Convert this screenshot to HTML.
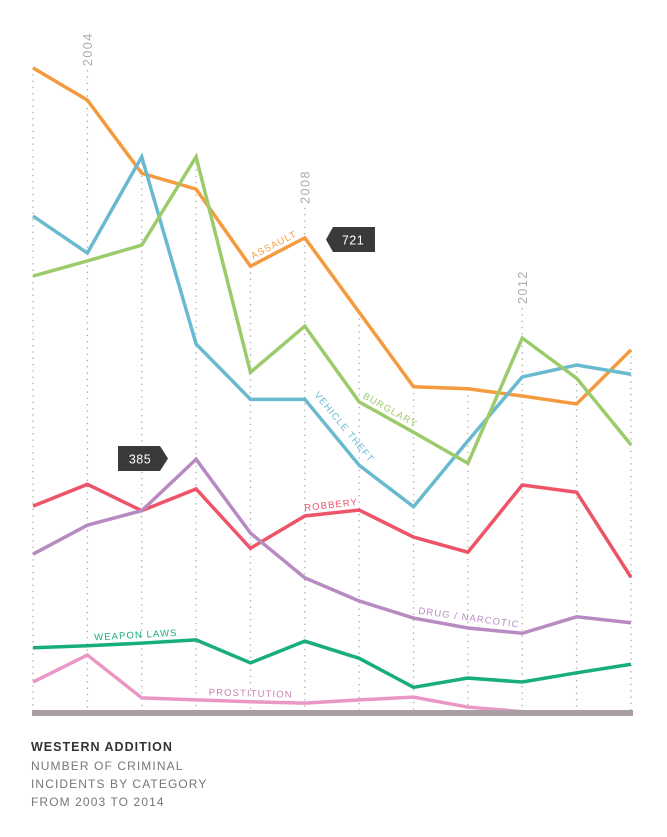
<!DOCTYPE html>
<html><head><meta charset="utf-8"><style>
html,body{margin:0;padding:0;background:#fff;}
svg{display:block;font-family:"Liberation Sans",sans-serif;}
</style></head><body>
<svg id="chart" width="667" height="837" viewBox="0 0 667 837" xmlns="http://www.w3.org/2000/svg">
<g id="grid"></g>
<g id="series"></g>
<rect x="32" y="710" width="601" height="6" fill="#a89ea3"/>
<g id="labels"></g>
<g>
<path d="M333,227 H375 V252 H333 L326,239.5 Z" fill="#3a3a3a"/>
<text x="353" y="244.5" fill="#fff" font-size="12.5" text-anchor="middle" letter-spacing="0.5">721</text>
</g>
<g>
<path d="M118,446 H160 L168,458.5 L160,471 H118 Z" fill="#3a3a3a"/>
<text x="140" y="463.5" fill="#fff" font-size="12.5" text-anchor="middle" letter-spacing="0.5">385</text>
</g>
<g>
<text x="31" y="751" font-size="12.5" font-weight="bold" fill="#333" letter-spacing="1">WESTERN ADDITION</text>
<text x="31" y="770" font-size="12" fill="#777" letter-spacing="1.1">NUMBER OF CRIMINAL</text>
<text x="31" y="788" font-size="12" fill="#777" letter-spacing="1.1">INCIDENTS BY CATEGORY</text>
<text x="31" y="806" font-size="12" fill="#777" letter-spacing="1.1">FROM 2003 TO 2014</text>
</g>
</svg>
<script>
const years = [2003,2004,2005,2006,2007,2008,2009,2010,2011,2012,2013,2014];
const labeledYears = [2004,2008,2012];
const assault = [979,930,819,795,678,721,608,495,492,481,469,551];
const vehicleTheft = [754,698,844,560,476,476,376,313,413,510,528,514];
const burglary = [663,686,710,844,517,587,472,426,379,569,508,407];
const robbery = [314,347,307,340,250,299,308,267,244,346,335,206];
const drug = [241,285,307,385,273,205,170,144,129,121,146,137];
const weaponLaws = [99,102,106,111,76,109,83,39,53,47,61,74];
const prostitution = [47,88,23,20,17,15,20,24,9,2,0,0];

const NS = "http://www.w3.org/2000/svg";
const x = i => 33 + i * (631 - 33) / (years.length - 1);
const y = v => 713 - v * 0.659;

const seriesList = [
  {name:"assault", data:assault, color:"#f59b3f"},
  {name:"vehicle-theft", data:vehicleTheft, color:"#69b9cf"},
  {name:"burglary", data:burglary, color:"#9ccb6c"},
  {name:"robbery", data:robbery, color:"#ee5468"},
  {name:"drug-narcotic", data:drug, color:"#b88ac2"},
  {name:"weapon-laws", data:weaponLaws, color:"#17ad7e"},
  {name:"prostitution", data:prostitution, color:"#eb97c5"}
];

const grid = document.getElementById("grid");
years.forEach((yr, i) => {
  let mx = 0;
  seriesList.forEach(s => { mx = Math.max(mx, s.data[i]); });
  let top = y(mx);
  const l = document.createElementNS(NS, "line");
  
  
  if (labeledYears.includes(yr)) {
    const t = document.createElementNS(NS, "text");
    
    
    const ly = top - 34;
    t.setAttribute("transform", "translate(" + (x(i) + 4.5) + "," + ly + ") rotate(-90)");
    t.setAttribute("font-size", "12.5");
    t.setAttribute("fill", "#aaa");
    t.setAttribute("letter-spacing", "1.5");
    t.textContent = yr;
    grid.appendChild(t);
    top = ly + 4;
  }
  l.setAttribute("x1", x(i)); l.setAttribute("x2", x(i));
  l.setAttribute("y1", top); l.setAttribute("y2", 713);
  l.setAttribute("stroke", "#aaa"); l.setAttribute("stroke-width", "1.3");
  l.setAttribute("stroke-dasharray", "1.3 5");
  grid.appendChild(l);
});

const sg = document.getElementById("series");
seriesList.forEach(s => {
  const p = document.createElementNS(NS, "polyline");
  
  
  p.setAttribute("points", s.data.map((v, i) => x(i) + "," + y(v)).join(" "));
  p.setAttribute("fill", "none");
  p.setAttribute("stroke", s.color);
  p.setAttribute("stroke-width", "3.5");
  p.setAttribute("stroke-linejoin", "miter");
  sg.appendChild(p);
});

const labelDefs = [
  ["ASSAULT", assault, 4, 5, 0.5, "#f59b3f", "assault"],
  ["VEHICLE THEFT", vehicleTheft, 5, 6, 0.5, "#69b9cf", "vehicle-theft"],
  ["BURGLARY", burglary, 6, 7, 0.5, "#9ccb6c", "burglary"],
  ["ROBBERY", robbery, 5, 6, 0.5, "#ee5468", "robbery"],
  ["DRUG / NARCOTIC", drug, 7, 9, 0.5, "#b88ac2", "drug-narcotic"],
  ["WEAPON LAWS", weaponLaws, 1, 3, 0.45, "#17ad7e", "weapon-laws"],
  ["PROSTITUTION", prostitution, 3, 5, 0.5, "#c983b0", "prostitution"]
];
const lg = document.getElementById("labels");
labelDefs.forEach(d => {
  const [txt, data, i0, i1, t, col, nm] = d;
  const x0 = x(i0), y0 = y(data[i0]), x1 = x(i1), y1 = y(data[i1]);
  const cx = x0 + (x1 - x0) * t, cy = y0 + (y1 - y0) * t;
  const ang = Math.atan2(y1 - y0, x1 - x0) * 180 / Math.PI;
  const e = document.createElementNS(NS, "text");
  
  
  const offX = nm === "vehicle-theft" ? 6 : 0;
  e.setAttribute("transform", "translate(" + (cx + offX) + "," + cy + ") rotate(" + ang + ")");
  e.setAttribute("y", -5);
  e.setAttribute("text-anchor", "middle");
  e.setAttribute("font-size", "9.5");
  e.setAttribute("letter-spacing", "1.1");
  e.setAttribute("fill", col);
  e.textContent = txt;
  lg.appendChild(e);
});
</script>
</body></html>
